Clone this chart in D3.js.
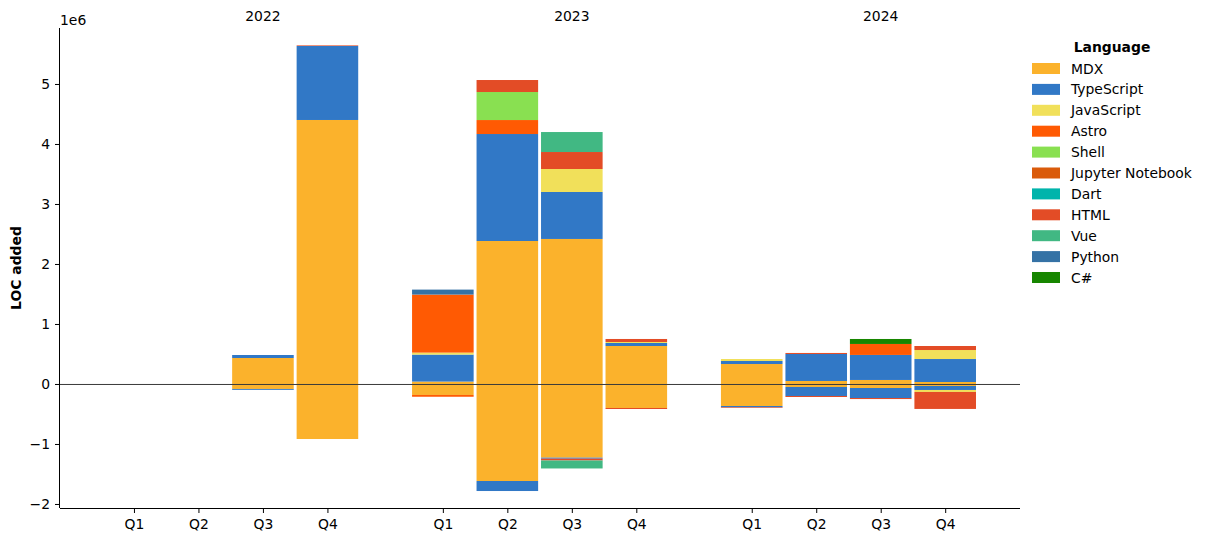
<!DOCTYPE html>
<html>
<head>
<meta charset="utf-8">
<script src="https://cdn.jsdelivr.net/npm/d3@7"></script>
<style>
  body { margin: 0; background: #fff; }
  svg { font-family: "DejaVu Sans", sans-serif; }
</style>
</head>
<body>
<svg id="chart" width="1207" height="542"></svg>
<script>
// ---------------- data ----------------
const years = ["2022", "2023", "2024"];
const quarters = ["Q1", "Q2", "Q3", "Q4"];
const periods = years.flatMap(y => quarters.map(q => y + " " + q));
const languages = ["MDX", "TypeScript", "JavaScript", "Astro", "Shell", "Jupyter Notebook", "Dart", "HTML", "Vue", "Python", "C#"];
const colors = ["#fbb22c", "#3178c6", "#f1e05a", "#ff5a03", "#89e051", "#da5b0b", "#00b4ab", "#e34c26", "#41b883", "#3572a5", "#178600"];
const yTicks = [-2, -1, 0, 1, 2, 3, 4, 5];

// lines of code added per period (millions)
const addedMDX        = [0, 0, 0.433, 4.40, 0.040, 2.383, 2.417, 0.633, 0.333, 0.050, 0.067, 0.033];
const addedTypeScript = [0, 0, 0.050, 1.233, 0.450, 1.783, 0.783, 0.050, 0.050, 0.450, 0.417, 0.383];
const addedJavaScript = [0, 0, 0, 0, 0.033, 0, 0.383, 0.017, 0.033, 0, 0, 0.150];
const addedAstro      = [0, 0, 0, 0, 0.967, 0.233, 0, 0, 0, 0, 0.183, 0];
const addedShell      = [0, 0, 0, 0, 0, 0.467, 0, 0, 0, 0, 0, 0];
const addedJupyter    = [0, 0, 0, 0, 0, 0, 0, 0, 0, 0, 0, 0];
const addedDart       = [0, 0, 0, 0, 0, 0, 0, 0, 0, 0, 0, 0];
const addedHTML       = [0, 0, 0, 0.010, 0, 0.200, 0.283, 0.050, 0, 0.017, 0, 0.067];
const addedVue        = [0, 0, 0, 0, 0, 0, 0.333, 0, 0, 0, 0, 0];
const addedPython     = [0, 0, 0, 0, 0.083, 0, 0, 0, 0, 0, 0, 0];
const addedCSharp     = [0, 0, 0, 0, 0, 0, 0, 0, 0, 0, 0.083, 0];

// lines of code removed per period (millions, negative)
const removedMDX        = [0, 0, -0.083, -0.917, -0.183, -1.617, -1.228, -0.400, -0.367, -0.050, -0.067, -0.033];
const removedTypeScript = [0, 0, -0.015, 0, 0, -0.167, -0.017, 0, -0.022, -0.150, -0.167, -0.067];
const removedJavaScript = [0, 0, 0, 0, 0, 0, 0, 0, 0, 0, 0, -0.033];
const removedAstro      = [0, 0, 0, 0, -0.030, 0, 0, 0, 0, 0, 0, 0];
const removedShell      = [0, 0, 0, 0, 0, 0, 0, 0, 0, 0, 0, 0];
const removedJupyter    = [0, 0, 0, 0, 0, 0, 0, 0, 0, 0, 0, 0];
const removedDart       = [0, 0, 0, 0, 0, 0, 0, 0, 0, 0, 0, 0];
const removedHTML       = [0, 0, 0, 0, 0, 0, -0.030, -0.017, -0.010, -0.017, -0.017, -0.283];
const removedVue        = [0, 0, 0, 0, 0, 0, -0.133, 0, 0, 0, 0, 0];
const removedPython     = [0, 0, 0, 0, 0, 0, 0, 0, 0, 0, 0, 0];
const removedCSharp     = [0, 0, 0, 0, 0, 0, 0, 0, 0, 0, 0, 0];

const addedSeries = [addedMDX, addedTypeScript, addedJavaScript, addedAstro, addedShell, addedJupyter, addedDart, addedHTML, addedVue, addedPython, addedCSharp];
const removedSeries = [removedMDX, removedTypeScript, removedJavaScript, removedAstro, removedShell, removedJupyter, removedDart, removedHTML, removedVue, removedPython, removedCSharp];

// ---------------- layout ----------------
const svg = d3.select("#chart");
const L = 60, R = 1020, T = 28, B = 508;
const FS = 13.9;
const groupGap = 4.79, barW = 0.955;
const pos = i => Math.floor(i / 4) * groupGap + (i % 4);

const x = d3.scaleLinear().domain([-1.147, 13.74]).range([L, R]);
const y = d3.scaleLinear().domain([-2.067e6, 5.933e6]).range([B, T]);
const color = d3.scaleOrdinal().domain(languages).range(colors);

function table(series) {
  return periods.map((p, i) => {
    const row = { period: p, idx: i };
    languages.forEach((l, j) => row[l] = series[j][i] * 1e6);
    return row;
  });
}
const stack = d3.stack().keys(languages).offset(d3.stackOffsetDiverging);
const stacks = [stack(table(addedSeries)), stack(table(removedSeries))];

const bars = svg.append("g");
stacks.forEach(st => {
  st.forEach(layer => {
    bars.append("g").attr("fill", color(layer.key))
      .selectAll("rect")
      .data(layer.filter(d => d[1] - d[0] !== 0))
      .join("rect")
      .attr("x", d => x(pos(d.data.idx) - barW / 2))
      .attr("width", x(barW) - x(0))
      .attr("y", d => y(Math.max(d[0], d[1])))
      .attr("height", d => Math.abs(y(d[0]) - y(d[1])));
  });
});

// zero line
svg.append("line")
  .attr("x1", L).attr("x2", R)
  .attr("y1", y(0) + 0.5).attr("y2", y(0) + 0.5)
  .attr("stroke", "#3a3a3a").attr("stroke-width", 1);

// x axis
const xAxis = d3.axisBottom(x)
  .tickValues(periods.map((p, i) => pos(i)))
  .tickFormat((d, i) => quarters[i % 4])
  .tickSize(5).tickPadding(6);
const gx = svg.append("g").attr("transform", `translate(0,${B})`).call(xAxis);
gx.select(".domain").attr("d", `M${L},0.5H${R}`).attr("stroke", "#000");
gx.selectAll("text").attr("font-size", FS).attr("fill", "#000").attr("font-family", "DejaVu Sans");
gx.selectAll(".tick line").attr("stroke", "#000");

// y axis
const fmt = d3.format("d");
const yAxis = d3.axisLeft(y)
  .tickValues(yTicks.map(v => v * 1e6))
  .tickFormat(v => fmt(v / 1e6))
  .tickSize(5).tickPadding(5);
const gy = svg.append("g").attr("transform", `translate(${L},0)`).call(yAxis);
gy.select(".domain").attr("d", `M-0.5,${T}V${B}`).attr("stroke", "#000");
gy.selectAll("text").attr("font-size", FS).attr("fill", "#000").attr("font-family", "DejaVu Sans");
gy.selectAll(".tick line").attr("stroke", "#000");

svg.append("text").attr("x", L).attr("y", 25)
  .attr("font-size", FS).text("1e6");

svg.append("text")
  .attr("transform", `translate(21,${(T + B) / 2}) rotate(-90)`)
  .attr("text-anchor", "middle").attr("font-size", FS).attr("font-weight", "bold")
  .text("LOC added");

// year labels on top
svg.append("g").selectAll("text").data(years).join("text")
  .attr("x", (d, i) => x(i * groupGap + 2))
  .attr("y", 21)
  .attr("text-anchor", "middle").attr("font-size", FS)
  .text(d => d);

// legend
const lg = svg.append("g").attr("transform", "translate(1032,0)");
lg.append("text").attr("x", 80).attr("y", 52)
  .attr("text-anchor", "middle").attr("font-size", FS).attr("font-weight", "bold")
  .text("Language");
const items = lg.selectAll("g.item").data(languages).join("g")
  .attr("transform", (d, i) => `translate(0,${63 + i * 20.9})`);
items.append("rect").attr("width", 28).attr("height", 11).attr("fill", d => color(d));
items.append("text").attr("x", 39).attr("y", 10.5).attr("font-size", FS).text(d => d);
</script>
</body>
</html>
